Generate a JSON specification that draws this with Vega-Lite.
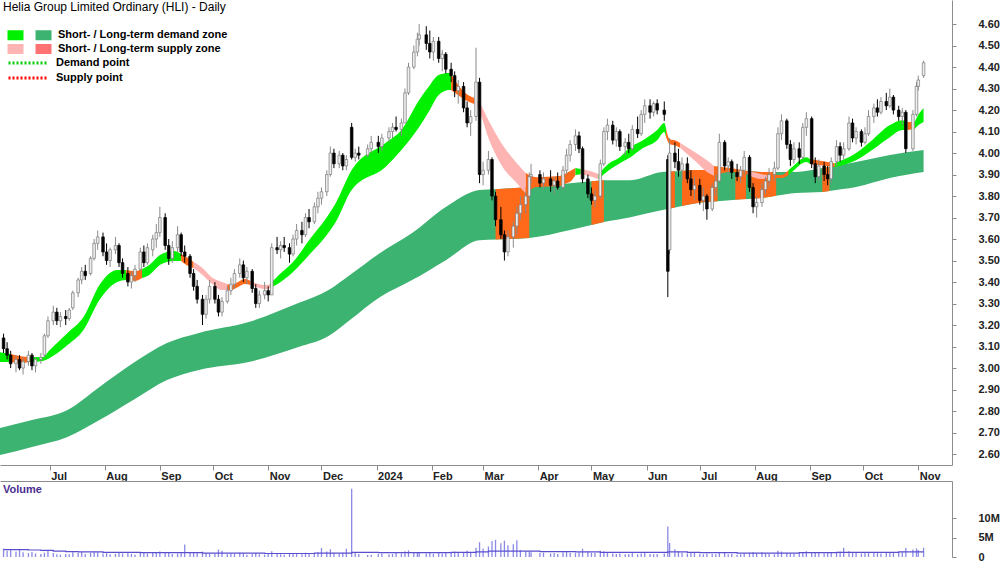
{
"$schema": "https://vega.github.io/schema/vega-lite/v6.json",
"padding": 0,
"spacing": 0,
"background": "white",
"config": {"view": {"stroke": null}, "font": "Liberation Sans"},
"datasets": {
"candles": [
{"d":"2023-06-05","o":3.14,"h":3.16,"l":3.07,"c":3.09,"v":2.2,"va":1.9},
{"d":"2023-06-07","o":3.09,"h":3.12,"l":3.04,"c":3.06,"v":1.6,"va":1.9},
{"d":"2023-06-09","o":3.06,"h":3.08,"l":3.00,"c":3.02,"v":1.9,"va":1.9},
{"d":"2023-06-12","o":3.02,"h":3.06,"l":2.98,"c":3.04,"v":1.4,"va":1.9},
{"d":"2023-06-14","o":3.04,"h":3.06,"l":2.99,"c":3.00,"v":2.0,"va":1.9},
{"d":"2023-06-16","o":3.00,"h":3.05,"l":2.97,"c":3.03,"v":1.2,"va":1.9},
{"d":"2023-06-19","o":3.03,"h":3.08,"l":3.01,"c":3.06,"v":1.0,"va":1.8},
{"d":"2023-06-21","o":3.06,"h":3.07,"l":2.99,"c":3.01,"v":1.3,"va":1.8},
{"d":"2023-06-23","o":3.01,"h":3.05,"l":2.98,"c":3.04,"v":0.9,"va":1.8},
{"d":"2023-06-26","o":3.04,"h":3.07,"l":3.02,"c":3.05,"v":0.8,"va":1.7},
{"d":"2023-06-28","o":3.06,"h":3.16,"l":3.05,"c":3.15,"v":1.1,"va":1.7},
{"d":"2023-06-30","o":3.15,"h":3.24,"l":3.14,"c":3.22,"v":1.7,"va":1.7},
{"d":"2023-07-03","o":3.22,"h":3.29,"l":3.20,"c":3.26,"v":1.0,"va":1.5},
{"d":"2023-07-05","o":3.26,"h":3.28,"l":3.20,"c":3.22,"v":0.7,"va":1.5},
{"d":"2023-07-07","o":3.22,"h":3.26,"l":3.19,"c":3.24,"v":0.6,"va":1.5},
{"d":"2023-07-10","o":3.24,"h":3.27,"l":3.20,"c":3.23,"v":0.8,"va":1.4},
{"d":"2023-07-12","o":3.23,"h":3.28,"l":3.22,"c":3.27,"v":0.7,"va":1.4},
{"d":"2023-07-14","o":3.28,"h":3.36,"l":3.27,"c":3.35,"v":1.2,"va":1.4},
{"d":"2023-07-17","o":3.35,"h":3.42,"l":3.33,"c":3.41,"v":1.0,"va":1.3},
{"d":"2023-07-19","o":3.41,"h":3.47,"l":3.39,"c":3.45,"v":1.3,"va":1.3},
{"d":"2023-07-21","o":3.45,"h":3.48,"l":3.41,"c":3.43,"v":0.8,"va":1.3},
{"d":"2023-07-24","o":3.44,"h":3.52,"l":3.43,"c":3.51,"v":1.1,"va":1.3},
{"d":"2023-07-26","o":3.51,"h":3.60,"l":3.50,"c":3.58,"v":1.4,"va":1.3},
{"d":"2023-07-28","o":3.58,"h":3.64,"l":3.55,"c":3.61,"v":1.2,"va":1.3},
{"d":"2023-07-31","o":3.61,"h":3.63,"l":3.52,"c":3.54,"v":0.9,"va":1.2},
{"d":"2023-08-02","o":3.54,"h":3.58,"l":3.48,"c":3.50,"v":1.0,"va":1.2},
{"d":"2023-08-04","o":3.50,"h":3.56,"l":3.47,"c":3.55,"v":0.7,"va":1.2},
{"d":"2023-08-07","o":3.55,"h":3.61,"l":3.53,"c":3.57,"v":0.8,"va":1.2},
{"d":"2023-08-09","o":3.57,"h":3.58,"l":3.47,"c":3.49,"v":1.3,"va":1.2},
{"d":"2023-08-11","o":3.49,"h":3.51,"l":3.42,"c":3.44,"v":0.9,"va":1.2},
{"d":"2023-08-14","o":3.44,"h":3.47,"l":3.38,"c":3.40,"v":1.1,"va":1.2},
{"d":"2023-08-16","o":3.40,"h":3.45,"l":3.37,"c":3.43,"v":0.8,"va":1.2},
{"d":"2023-08-18","o":3.43,"h":3.48,"l":3.40,"c":3.46,"v":0.6,"va":1.2},
{"d":"2023-08-21","o":3.46,"h":3.56,"l":3.45,"c":3.54,"v":1.0,"va":1.1},
{"d":"2023-08-23","o":3.54,"h":3.57,"l":3.47,"c":3.49,"v":1.2,"va":1.1},
{"d":"2023-08-25","o":3.49,"h":3.58,"l":3.48,"c":3.56,"v":0.9,"va":1.1},
{"d":"2023-08-28","o":3.55,"h":3.62,"l":3.52,"c":3.60,"v":1.1,"va":1.1},
{"d":"2023-08-30","o":3.60,"h":3.67,"l":3.56,"c":3.63,"v":1.3,"va":1.1},
{"d":"2023-09-01","o":3.63,"h":3.75,"l":3.61,"c":3.70,"v":1.4,"va":1.1},
{"d":"2023-09-04","o":3.70,"h":3.72,"l":3.55,"c":3.57,"v":1.2,"va":1.1},
{"d":"2023-09-06","o":3.57,"h":3.60,"l":3.48,"c":3.51,"v":1.0,"va":1.1},
{"d":"2023-09-08","o":3.51,"h":3.59,"l":3.49,"c":3.56,"v":0.8,"va":1.1},
{"d":"2023-09-11","o":3.56,"h":3.66,"l":3.54,"c":3.62,"v":0.9,"va":1.1},
{"d":"2023-09-13","o":3.62,"h":3.63,"l":3.52,"c":3.54,"v":1.1,"va":1.1},
{"d":"2023-09-15","o":3.54,"h":3.57,"l":3.49,"c":3.52,"v":3.2,"va":1.1},
{"d":"2023-09-18","o":3.52,"h":3.53,"l":3.42,"c":3.44,"v":1.0,"va":1.1},
{"d":"2023-09-20","o":3.44,"h":3.46,"l":3.36,"c":3.38,"v":1.2,"va":1.1},
{"d":"2023-09-22","o":3.38,"h":3.41,"l":3.30,"c":3.32,"v":1.1,"va":1.1},
{"d":"2023-09-25","o":3.32,"h":3.34,"l":3.20,"c":3.25,"v":1.4,"va":1.0},
{"d":"2023-09-27","o":3.25,"h":3.34,"l":3.23,"c":3.32,"v":1.0,"va":1.0},
{"d":"2023-09-29","o":3.32,"h":3.41,"l":3.30,"c":3.38,"v":0.9,"va":1.0},
{"d":"2023-10-02","o":3.38,"h":3.40,"l":3.30,"c":3.32,"v":0.8,"va":1.0},
{"d":"2023-10-04","o":3.32,"h":3.34,"l":3.24,"c":3.26,"v":1.9,"va":1.0},
{"d":"2023-10-06","o":3.26,"h":3.33,"l":3.24,"c":3.31,"v":1.6,"va":1.0},
{"d":"2023-10-09","o":3.31,"h":3.38,"l":3.30,"c":3.36,"v":0.7,"va":1.0},
{"d":"2023-10-11","o":3.36,"h":3.42,"l":3.34,"c":3.39,"v":0.9,"va":1.0},
{"d":"2023-10-13","o":3.39,"h":3.46,"l":3.37,"c":3.44,"v":0.8,"va":1.0},
{"d":"2023-10-16","o":3.44,"h":3.51,"l":3.42,"c":3.48,"v":1.1,"va":1.0},
{"d":"2023-10-18","o":3.48,"h":3.50,"l":3.40,"c":3.42,"v":1.0,"va":1.0},
{"d":"2023-10-20","o":3.42,"h":3.47,"l":3.39,"c":3.45,"v":0.6,"va":1.0},
{"d":"2023-10-23","o":3.45,"h":3.46,"l":3.35,"c":3.37,"v":0.8,"va":1.0},
{"d":"2023-10-25","o":3.37,"h":3.39,"l":3.28,"c":3.30,"v":1.0,"va":1.0},
{"d":"2023-10-27","o":3.30,"h":3.36,"l":3.28,"c":3.34,"v":0.7,"va":1.0},
{"d":"2023-10-30","o":3.34,"h":3.40,"l":3.32,"c":3.36,"v":0.6,"va":0.9},
{"d":"2023-11-01","o":3.36,"h":3.38,"l":3.31,"c":3.34,"v":0.9,"va":0.9},
{"d":"2023-11-03","o":3.34,"h":3.58,"l":3.34,"c":3.56,"v":1.5,"va":0.9},
{"d":"2023-11-06","o":3.56,"h":3.61,"l":3.53,"c":3.55,"v":0.9,"va":0.9},
{"d":"2023-11-08","o":3.55,"h":3.59,"l":3.51,"c":3.57,"v":0.7,"va":0.9},
{"d":"2023-11-10","o":3.57,"h":3.61,"l":3.54,"c":3.56,"v":0.6,"va":0.9},
{"d":"2023-11-13","o":3.56,"h":3.58,"l":3.49,"c":3.53,"v":0.8,"va":0.9},
{"d":"2023-11-15","o":3.53,"h":3.62,"l":3.52,"c":3.60,"v":0.9,"va":0.9},
{"d":"2023-11-17","o":3.60,"h":3.67,"l":3.57,"c":3.64,"v":1.0,"va":0.9},
{"d":"2023-11-20","o":3.64,"h":3.68,"l":3.58,"c":3.62,"v":0.7,"va":0.9},
{"d":"2023-11-22","o":3.62,"h":3.72,"l":3.61,"c":3.70,"v":1.1,"va":0.9},
{"d":"2023-11-24","o":3.70,"h":3.74,"l":3.65,"c":3.68,"v":0.8,"va":0.9},
{"d":"2023-11-27","o":3.68,"h":3.77,"l":3.67,"c":3.75,"v":0.9,"va":1.0},
{"d":"2023-11-29","o":3.75,"h":3.82,"l":3.72,"c":3.79,"v":1.2,"va":1.0},
{"d":"2023-12-01","o":3.79,"h":3.84,"l":3.76,"c":3.82,"v":2.3,"va":1.0},
{"d":"2023-12-04","o":3.82,"h":3.92,"l":3.80,"c":3.90,"v":1.4,"va":1.0},
{"d":"2023-12-06","o":3.90,"h":4.03,"l":3.89,"c":4.00,"v":2.0,"va":1.0},
{"d":"2023-12-08","o":4.00,"h":4.02,"l":3.93,"c":3.95,"v":1.0,"va":1.0},
{"d":"2023-12-11","o":3.95,"h":4.01,"l":3.93,"c":3.99,"v":0.9,"va":1.0},
{"d":"2023-12-13","o":3.99,"h":4.00,"l":3.92,"c":3.94,"v":1.1,"va":1.0},
{"d":"2023-12-15","o":3.94,"h":3.99,"l":3.92,"c":3.97,"v":2.1,"va":1.0},
{"d":"2023-12-18","o":4.12,"h":4.14,"l":3.97,"c":3.98,"v":17.5,"va":1.2},
{"d":"2023-12-20","o":3.98,"h":4.02,"l":3.96,"c":4.00,"v":1.3,"va":1.2},
{"d":"2023-12-22","o":4.00,"h":4.03,"l":3.97,"c":3.99,"v":0.8,"va":1.2},
{"d":"2023-12-27","o":3.99,"h":4.04,"l":3.98,"c":4.02,"v":0.5,"va":1.2},
{"d":"2023-12-29","o":4.02,"h":4.08,"l":4.00,"c":4.05,"v":0.6,"va":1.2},
{"d":"2024-01-02","o":4.05,"h":4.08,"l":4.00,"c":4.03,"v":0.8,"va":1.1},
{"d":"2024-01-04","o":4.03,"h":4.09,"l":4.01,"c":4.07,"v":0.9,"va":1.1},
{"d":"2024-01-08","o":4.07,"h":4.12,"l":4.05,"c":4.10,"v":0.7,"va":1.1},
{"d":"2024-01-10","o":4.10,"h":4.14,"l":4.07,"c":4.12,"v":0.8,"va":1.1},
{"d":"2024-01-12","o":4.12,"h":4.17,"l":4.10,"c":4.11,"v":1.0,"va":1.1},
{"d":"2024-01-15","o":4.11,"h":4.16,"l":4.08,"c":4.14,"v":0.9,"va":1.1},
{"d":"2024-01-17","o":4.14,"h":4.30,"l":4.14,"c":4.28,"v":1.5,"va":1.1},
{"d":"2024-01-19","o":4.28,"h":4.42,"l":4.27,"c":4.40,"v":1.7,"va":1.1},
{"d":"2024-01-22","o":4.40,"h":4.50,"l":4.39,"c":4.47,"v":1.3,"va":1.1},
{"d":"2024-01-24","o":4.47,"h":4.56,"l":4.45,"c":4.53,"v":1.2,"va":1.1},
{"d":"2024-01-25","o":4.53,"h":4.60,"l":4.50,"c":4.55,"v":1.1,"va":1.1},
{"d":"2024-01-29","o":4.55,"h":4.59,"l":4.48,"c":4.51,"v":0.9,"va":1.1},
{"d":"2024-01-31","o":4.51,"h":4.57,"l":4.44,"c":4.47,"v":1.0,"va":1.1},
{"d":"2024-02-02","o":4.47,"h":4.54,"l":4.43,"c":4.52,"v":0.8,"va":1.1},
{"d":"2024-02-05","o":4.52,"h":4.54,"l":4.42,"c":4.44,"v":1.0,"va":1.1},
{"d":"2024-02-07","o":4.44,"h":4.48,"l":4.38,"c":4.46,"v":0.9,"va":1.1},
{"d":"2024-02-09","o":4.46,"h":4.47,"l":4.37,"c":4.39,"v":1.1,"va":1.1},
{"d":"2024-02-12","o":4.39,"h":4.42,"l":4.33,"c":4.36,"v":1.2,"va":1.2},
{"d":"2024-02-14","o":4.36,"h":4.38,"l":4.26,"c":4.29,"v":1.4,"va":1.2},
{"d":"2024-02-16","o":4.29,"h":4.34,"l":4.23,"c":4.31,"v":1.0,"va":1.2},
{"d":"2024-02-19","o":4.31,"h":4.33,"l":4.19,"c":4.21,"v":1.3,"va":1.2},
{"d":"2024-02-21","o":4.21,"h":4.24,"l":4.12,"c":4.14,"v":1.6,"va":1.2},
{"d":"2024-02-23","o":4.14,"h":4.20,"l":4.08,"c":4.17,"v":1.2,"va":1.2},
{"d":"2024-02-26","o":4.17,"h":4.49,"l":4.15,"c":4.33,"v":2.4,"va":1.3},
{"d":"2024-02-28","o":4.33,"h":4.35,"l":3.86,"c":3.90,"v":3.8,"va":1.3},
{"d":"2024-03-01","o":3.90,"h":3.96,"l":3.85,"c":3.92,"v":2.2,"va":1.3},
{"d":"2024-03-04","o":3.92,"h":4.01,"l":3.90,"c":3.97,"v":2.7,"va":1.5},
{"d":"2024-03-06","o":3.97,"h":3.98,"l":3.78,"c":3.80,"v":4.1,"va":1.5},
{"d":"2024-03-08","o":3.80,"h":3.82,"l":3.66,"c":3.69,"v":4.4,"va":1.5},
{"d":"2024-03-11","o":3.69,"h":3.75,"l":3.60,"c":3.62,"v":3.5,"va":1.5},
{"d":"2024-03-13","o":3.62,"h":3.64,"l":3.50,"c":3.54,"v":4.2,"va":1.5},
{"d":"2024-03-15","o":3.54,"h":3.64,"l":3.52,"c":3.61,"v":3.0,"va":1.5},
{"d":"2024-03-18","o":3.61,"h":3.68,"l":3.56,"c":3.66,"v":3.3,"va":1.5},
{"d":"2024-03-20","o":3.66,"h":3.75,"l":3.62,"c":3.72,"v":4.3,"va":1.5},
{"d":"2024-03-22","o":3.72,"h":3.80,"l":3.69,"c":3.76,"v":1.8,"va":1.5},
{"d":"2024-03-25","o":3.76,"h":3.82,"l":3.72,"c":3.80,"v":1.5,"va":1.5},
{"d":"2024-03-27","o":3.80,"h":3.91,"l":3.78,"c":3.89,"v":1.4,"va":1.5},
{"d":"2024-03-28","o":3.89,"h":3.95,"l":3.86,"c":3.90,"v":1.2,"va":1.5},
{"d":"2024-04-02","o":3.90,"h":3.92,"l":3.84,"c":3.86,"v":1.0,"va":1.4},
{"d":"2024-04-04","o":3.86,"h":3.91,"l":3.83,"c":3.88,"v":1.1,"va":1.4},
{"d":"2024-04-08","o":3.88,"h":3.92,"l":3.82,"c":3.85,"v":0.9,"va":1.4},
{"d":"2024-04-10","o":3.85,"h":3.89,"l":3.81,"c":3.87,"v":1.0,"va":1.4},
{"d":"2024-04-12","o":3.87,"h":3.91,"l":3.83,"c":3.84,"v":0.8,"va":1.4},
{"d":"2024-04-15","o":3.84,"h":3.94,"l":3.83,"c":3.92,"v":1.2,"va":1.4},
{"d":"2024-04-17","o":3.92,"h":4.02,"l":3.90,"c":3.99,"v":1.3,"va":1.4},
{"d":"2024-04-19","o":3.99,"h":4.06,"l":3.96,"c":4.04,"v":1.1,"va":1.4},
{"d":"2024-04-22","o":4.04,"h":4.11,"l":4.01,"c":4.08,"v":1.0,"va":1.3},
{"d":"2024-04-24","o":4.08,"h":4.10,"l":4.00,"c":4.02,"v":1.2,"va":1.3},
{"d":"2024-04-26","o":4.02,"h":4.03,"l":3.86,"c":3.88,"v":2.1,"va":1.3},
{"d":"2024-04-29","o":3.88,"h":3.90,"l":3.79,"c":3.81,"v":1.4,"va":1.3},
{"d":"2024-05-01","o":3.81,"h":3.84,"l":3.76,"c":3.78,"v":1.1,"va":1.3},
{"d":"2024-05-03","o":3.78,"h":3.83,"l":3.75,"c":3.80,"v":1.0,"va":1.3},
{"d":"2024-05-06","o":3.80,"h":3.97,"l":3.79,"c":3.95,"v":1.6,"va":1.2},
{"d":"2024-05-08","o":3.95,"h":4.12,"l":3.94,"c":4.10,"v":1.5,"va":1.2},
{"d":"2024-05-10","o":4.10,"h":4.16,"l":4.06,"c":4.13,"v":1.1,"va":1.2},
{"d":"2024-05-13","o":4.13,"h":4.15,"l":4.04,"c":4.06,"v":0.9,"va":1.2},
{"d":"2024-05-15","o":4.06,"h":4.12,"l":4.03,"c":4.10,"v":0.8,"va":1.2},
{"d":"2024-05-17","o":4.10,"h":4.11,"l":4.01,"c":4.03,"v":0.9,"va":1.2},
{"d":"2024-05-20","o":4.03,"h":4.07,"l":3.99,"c":4.05,"v":0.7,"va":1.2},
{"d":"2024-05-22","o":4.05,"h":4.09,"l":4.00,"c":4.02,"v":0.8,"va":1.2},
{"d":"2024-05-24","o":4.02,"h":4.13,"l":4.01,"c":4.11,"v":1.0,"va":1.2},
{"d":"2024-05-27","o":4.11,"h":4.17,"l":4.07,"c":4.09,"v":0.7,"va":1.2},
{"d":"2024-05-29","o":4.09,"h":4.20,"l":4.08,"c":4.18,"v":0.9,"va":1.2},
{"d":"2024-05-31","o":4.18,"h":4.25,"l":4.14,"c":4.22,"v":1.3,"va":1.2},
{"d":"2024-06-03","o":4.22,"h":4.25,"l":4.16,"c":4.19,"v":0.8,"va":1.2},
{"d":"2024-06-05","o":4.19,"h":4.24,"l":4.17,"c":4.23,"v":0.7,"va":1.2},
{"d":"2024-06-07","o":4.23,"h":4.25,"l":4.18,"c":4.20,"v":0.8,"va":1.2},
{"d":"2024-06-11","o":4.20,"h":4.24,"l":4.15,"c":4.18,"v":0.9,"va":1.2},
{"d":"2024-06-13","o":3.97,"h":3.99,"l":3.33,"c":3.45,"v":7.8,"va":1.3},
{"d":"2024-06-14","o":3.55,"h":4.07,"l":3.53,"c":4.00,"v":3.6,"va":1.3},
{"d":"2024-06-17","o":4.00,"h":4.05,"l":3.93,"c":3.96,"v":2.0,"va":1.3},
{"d":"2024-06-19","o":3.96,"h":4.02,"l":3.89,"c":3.92,"v":1.4,"va":1.3},
{"d":"2024-06-21","o":3.92,"h":3.98,"l":3.87,"c":3.95,"v":1.1,"va":1.3},
{"d":"2024-06-24","o":3.95,"h":3.98,"l":3.86,"c":3.88,"v":0.9,"va":1.2},
{"d":"2024-06-26","o":3.88,"h":3.92,"l":3.80,"c":3.83,"v":1.0,"va":1.2},
{"d":"2024-06-28","o":3.83,"h":3.89,"l":3.78,"c":3.85,"v":1.2,"va":1.2},
{"d":"2024-07-01","o":3.85,"h":3.88,"l":3.76,"c":3.78,"v":0.8,"va":1.1},
{"d":"2024-07-03","o":3.78,"h":3.84,"l":3.73,"c":3.80,"v":0.7,"va":1.1},
{"d":"2024-07-05","o":3.80,"h":3.81,"l":3.69,"c":3.74,"v":0.9,"va":1.1},
{"d":"2024-07-08","o":3.74,"h":3.86,"l":3.73,"c":3.84,"v":0.8,"va":1.1},
{"d":"2024-07-10","o":3.84,"h":3.90,"l":3.80,"c":3.87,"v":0.7,"va":1.1},
{"d":"2024-07-12","o":3.87,"h":4.09,"l":3.86,"c":4.05,"v":1.3,"va":1.1},
{"d":"2024-07-15","o":4.05,"h":4.06,"l":3.92,"c":3.94,"v":1.0,"va":1.1},
{"d":"2024-07-17","o":3.94,"h":3.98,"l":3.90,"c":3.96,"v":0.7,"va":1.1},
{"d":"2024-07-19","o":3.96,"h":3.97,"l":3.88,"c":3.91,"v":0.8,"va":1.1},
{"d":"2024-07-22","o":3.91,"h":3.95,"l":3.87,"c":3.89,"v":0.6,"va":1.0},
{"d":"2024-07-24","o":3.89,"h":3.94,"l":3.86,"c":3.92,"v":0.7,"va":1.0},
{"d":"2024-07-26","o":3.92,"h":4.01,"l":3.90,"c":3.98,"v":0.9,"va":1.0},
{"d":"2024-07-29","o":3.98,"h":3.99,"l":3.82,"c":3.84,"v":1.1,"va":1.0},
{"d":"2024-07-31","o":3.84,"h":3.86,"l":3.72,"c":3.75,"v":1.3,"va":1.0},
{"d":"2024-08-02","o":3.75,"h":3.80,"l":3.70,"c":3.77,"v":1.0,"va":1.0},
{"d":"2024-08-05","o":3.77,"h":3.86,"l":3.75,"c":3.83,"v":1.2,"va":1.0},
{"d":"2024-08-07","o":3.83,"h":3.89,"l":3.81,"c":3.87,"v":0.9,"va":1.0},
{"d":"2024-08-09","o":3.87,"h":3.93,"l":3.84,"c":3.90,"v":0.8,"va":1.0},
{"d":"2024-08-12","o":3.90,"h":3.96,"l":3.87,"c":3.93,"v":0.7,"va":1.0},
{"d":"2024-08-14","o":3.93,"h":4.12,"l":3.92,"c":4.09,"v":1.6,"va":1.0},
{"d":"2024-08-16","o":4.09,"h":4.18,"l":4.06,"c":4.15,"v":1.4,"va":1.0},
{"d":"2024-08-19","o":4.15,"h":4.16,"l":4.02,"c":4.04,"v":1.1,"va":1.0},
{"d":"2024-08-21","o":4.04,"h":4.06,"l":3.94,"c":3.97,"v":1.0,"va":1.0},
{"d":"2024-08-23","o":3.97,"h":4.05,"l":3.95,"c":4.02,"v":0.8,"va":1.0},
{"d":"2024-08-26","o":4.02,"h":4.05,"l":3.95,"c":3.98,"v":0.9,"va":1.1},
{"d":"2024-08-28","o":3.98,"h":4.14,"l":3.97,"c":4.12,"v":1.2,"va":1.1},
{"d":"2024-08-30","o":4.12,"h":4.19,"l":4.08,"c":4.16,"v":1.5,"va":1.1},
{"d":"2024-09-02","o":4.16,"h":4.17,"l":3.93,"c":3.95,"v":1.3,"va":1.1},
{"d":"2024-09-04","o":3.95,"h":3.98,"l":3.86,"c":3.89,"v":1.1,"va":1.1},
{"d":"2024-09-06","o":3.89,"h":3.97,"l":3.87,"c":3.94,"v":1.0,"va":1.1},
{"d":"2024-09-09","o":3.94,"h":3.96,"l":3.87,"c":3.90,"v":0.9,"va":1.1},
{"d":"2024-09-11","o":3.90,"h":3.94,"l":3.85,"c":3.88,"v":1.2,"va":1.1},
{"d":"2024-09-13","o":3.88,"h":3.98,"l":3.86,"c":3.96,"v":1.0,"va":1.1},
{"d":"2024-09-16","o":3.96,"h":4.06,"l":3.94,"c":4.03,"v":1.3,"va":1.2},
{"d":"2024-09-18","o":4.03,"h":4.05,"l":3.96,"c":3.99,"v":1.4,"va":1.2},
{"d":"2024-09-20","o":3.99,"h":4.05,"l":3.97,"c":4.02,"v":2.4,"va":1.2},
{"d":"2024-09-23","o":4.02,"h":4.17,"l":4.01,"c":4.14,"v":1.5,"va":1.2},
{"d":"2024-09-25","o":4.14,"h":4.16,"l":4.05,"c":4.07,"v":1.1,"va":1.2},
{"d":"2024-09-27","o":4.07,"h":4.12,"l":4.04,"c":4.10,"v":1.0,"va":1.2},
{"d":"2024-09-30","o":4.10,"h":4.11,"l":4.03,"c":4.05,"v":0.9,"va":1.2},
{"d":"2024-10-02","o":4.05,"h":4.12,"l":4.04,"c":4.09,"v":1.0,"va":1.2},
{"d":"2024-10-04","o":4.09,"h":4.20,"l":4.08,"c":4.17,"v":1.1,"va":1.2},
{"d":"2024-10-07","o":4.17,"h":4.23,"l":4.14,"c":4.21,"v":1.2,"va":1.2},
{"d":"2024-10-09","o":4.21,"h":4.25,"l":4.17,"c":4.19,"v":1.0,"va":1.2},
{"d":"2024-10-11","o":4.19,"h":4.26,"l":4.18,"c":4.24,"v":0.9,"va":1.2},
{"d":"2024-10-14","o":4.24,"h":4.28,"l":4.20,"c":4.22,"v":1.1,"va":1.2},
{"d":"2024-10-16","o":4.22,"h":4.30,"l":4.21,"c":4.26,"v":1.3,"va":1.2},
{"d":"2024-10-18","o":4.26,"h":4.27,"l":4.18,"c":4.20,"v":1.0,"va":1.2},
{"d":"2024-10-21","o":4.20,"h":4.22,"l":4.15,"c":4.17,"v":1.2,"va":1.3},
{"d":"2024-10-23","o":4.17,"h":4.21,"l":4.13,"c":4.19,"v":1.4,"va":1.3},
{"d":"2024-10-25","o":4.19,"h":4.20,"l":4.00,"c":4.02,"v":2.3,"va":1.3},
{"d":"2024-10-29","o":4.02,"h":4.20,"l":4.01,"c":4.18,"v":1.9,"va":1.3},
{"d":"2024-10-31","o":4.18,"h":4.33,"l":4.17,"c":4.31,"v":2.2,"va":1.3},
{"d":"2024-11-01","o":4.31,"h":4.36,"l":4.29,"c":4.34,"v":1.8,"va":1.3},
{"d":"2024-11-04","o":4.36,"h":4.43,"l":4.35,"c":4.42,"v":2.4,"va":1.3}
],
"lt": [
{"z":"ld","d":"2023-06-03","hi":2.721,"lo":2.595},
{"z":"ld","d":"2023-06-21","hi":2.758,"lo":2.633},
{"z":"ld","d":"2023-07-11","hi":2.805,"lo":2.679},
{"z":"ld","d":"2023-07-29","hi":2.912,"lo":2.758},
{"z":"ld","d":"2023-08-17","hi":3.023,"lo":2.851},
{"z":"ld","d":"2023-09-05","hi":3.116,"lo":2.944},
{"z":"ld","d":"2023-09-23","hi":3.163,"lo":2.991},
{"z":"ld","d":"2023-10-21","hi":3.214,"lo":3.028},
{"z":"ld","d":"2023-11-18","hi":3.302,"lo":3.098},
{"z":"ld","d":"2023-12-05","hi":3.363,"lo":3.149},
{"z":"ld","d":"2023-12-17","hi":3.433,"lo":3.223},
{"z":"ld","d":"2024-01-03","hi":3.535,"lo":3.330},
{"z":"ld","d":"2024-01-21","hi":3.628,"lo":3.409},
{"z":"ld","d":"2024-02-09","hi":3.749,"lo":3.502},
{"z":"ld","d":"2024-02-28","hi":3.828,"lo":3.595},
{"z":"ld","d":"2024-03-08","hi":3.832,"lo":3.598},
{"z":"ld","d":"2024-03-27","hi":3.842,"lo":3.605},
{"z":"ld","d":"2024-04-19","hi":3.860,"lo":3.642},
{"z":"ld","d":"2024-05-01","hi":3.869,"lo":3.665},
{"z":"ld","d":"2024-05-08","hi":3.874,"lo":3.679},
{"z":"ld","d":"2024-05-23","hi":3.874,"lo":3.702},
{"z":"ld","d":"2024-06-10","hi":3.912,"lo":3.735},
{"z":"ld","d":"2024-06-13","hi":3.913,"lo":3.740},
{"z":"ld","d":"2024-06-17","hi":3.915,"lo":3.747},
{"z":"ld","d":"2024-06-21","hi":3.917,"lo":3.754},
{"z":"ld","d":"2024-06-29","hi":3.921,"lo":3.767},
{"z":"ld","d":"2024-07-11","hi":3.921,"lo":3.776},
{"z":"ld","d":"2024-07-18","hi":3.921,"lo":3.781},
{"z":"ld","d":"2024-07-21","hi":3.920,"lo":3.783},
{"z":"ld","d":"2024-07-27","hi":3.916,"lo":3.786},
{"z":"ld","d":"2024-07-30","hi":3.915,"lo":3.788},
{"z":"ld","d":"2024-08-05","hi":3.912,"lo":3.791},
{"z":"ld","d":"2024-08-13","hi":3.912,"lo":3.801},
{"z":"ld","d":"2024-08-24","hi":3.912,"lo":3.814},
{"z":"ld","d":"2024-09-08","hi":3.930,"lo":3.819},
{"z":"ld","d":"2024-09-12","hi":3.936,"lo":3.824},
{"z":"ld","d":"2024-09-27","hi":3.958,"lo":3.842},
{"z":"ld","d":"2024-10-16","hi":3.991,"lo":3.884},
{"z":"ld","d":"2024-11-04","hi":4.014,"lo":3.912}
],
"lto": [
{"g":1,"z":"so","d":"2024-03-08","hi":3.832,"lo":3.598},
{"g":1,"z":"so","d":"2024-03-27","hi":3.842,"lo":3.605},
{"g":2,"z":"so","d":"2024-05-01","hi":3.869,"lo":3.665},
{"g":2,"z":"so","d":"2024-05-08","hi":3.874,"lo":3.679},
{"g":3,"z":"so","d":"2024-06-13","hi":3.913,"lo":3.740},
{"g":3,"z":"so","d":"2024-06-17","hi":3.915,"lo":3.747},
{"g":4,"z":"so","d":"2024-06-21","hi":3.917,"lo":3.754},
{"g":4,"z":"so","d":"2024-06-29","hi":3.921,"lo":3.767},
{"g":4,"z":"so","d":"2024-07-11","hi":3.921,"lo":3.776},
{"g":5,"z":"so","d":"2024-07-21","hi":3.920,"lo":3.783},
{"g":5,"z":"so","d":"2024-07-27","hi":3.916,"lo":3.786},
{"g":6,"z":"so","d":"2024-07-30","hi":3.915,"lo":3.788},
{"g":6,"z":"so","d":"2024-08-05","hi":3.912,"lo":3.791},
{"g":6,"z":"so","d":"2024-08-13","hi":3.912,"lo":3.801},
{"g":7,"z":"so","d":"2024-09-08","hi":3.930,"lo":3.819},
{"g":7,"z":"so","d":"2024-09-12","hi":3.936,"lo":3.824}
],
"st": [
{"g":1,"z":"sd","d":"2023-06-03","hi":3.074,"lo":3.028},
{"g":1,"z":"sd","d":"2023-06-09","hi":3.065,"lo":3.028},
{"g":2,"z":"so","d":"2023-06-09","hi":3.065,"lo":3.028},
{"g":2,"z":"so","d":"2023-06-14","hi":3.056,"lo":3.023},
{"g":2,"z":"so","d":"2023-06-20","hi":3.051,"lo":3.028},
{"g":3,"z":"sd","d":"2023-06-20","hi":3.051,"lo":3.028},
{"g":3,"z":"sd","d":"2023-06-27","hi":3.051,"lo":3.033},
{"g":3,"z":"sd","d":"2023-07-01","hi":3.084,"lo":3.047},
{"g":3,"z":"sd","d":"2023-07-11","hi":3.163,"lo":3.107},
{"g":3,"z":"sd","d":"2023-07-20","hi":3.237,"lo":3.177},
{"g":3,"z":"sd","d":"2023-07-29","hi":3.386,"lo":3.316},
{"g":3,"z":"sd","d":"2023-08-08","hi":3.456,"lo":3.400},
{"g":3,"z":"sd","d":"2023-08-13","hi":3.456,"lo":3.409},
{"g":4,"z":"so","d":"2023-08-13","hi":3.456,"lo":3.409},
{"g":4,"z":"so","d":"2023-08-18","hi":3.451,"lo":3.405},
{"g":4,"z":"so","d":"2023-08-22","hi":3.461,"lo":3.419},
{"g":5,"z":"sd","d":"2023-08-22","hi":3.461,"lo":3.419},
{"g":5,"z":"sd","d":"2023-08-26","hi":3.479,"lo":3.433},
{"g":5,"z":"sd","d":"2023-09-01","hi":3.526,"lo":3.479},
{"g":5,"z":"sd","d":"2023-09-05","hi":3.540,"lo":3.493},
{"g":5,"z":"sd","d":"2023-09-09","hi":3.544,"lo":3.498},
{"g":5,"z":"sd","d":"2023-09-13","hi":3.530,"lo":3.498},
{"g":6,"z":"so","d":"2023-09-13","hi":3.530,"lo":3.498},
{"g":6,"z":"so","d":"2023-09-16","hi":3.516,"lo":3.479},
{"g":6,"z":"so","d":"2023-09-20","hi":3.493,"lo":3.465},
{"g":7,"z":"ss","d":"2023-09-20","hi":3.493,"lo":3.465},
{"g":7,"z":"ss","d":"2023-09-25","hi":3.465,"lo":3.433},
{"g":7,"z":"ss","d":"2023-09-30","hi":3.423,"lo":3.395},
{"g":7,"z":"ss","d":"2023-10-06","hi":3.400,"lo":3.363},
{"g":7,"z":"ss","d":"2023-10-09","hi":3.391,"lo":3.363},
{"g":8,"z":"so","d":"2023-10-09","hi":3.391,"lo":3.363},
{"g":8,"z":"so","d":"2023-10-11","hi":3.386,"lo":3.363},
{"g":8,"z":"so","d":"2023-10-19","hi":3.414,"lo":3.391},
{"g":8,"z":"so","d":"2023-10-22","hi":3.405,"lo":3.386},
{"g":9,"z":"ss","d":"2023-10-22","hi":3.405,"lo":3.386},
{"g":9,"z":"ss","d":"2023-10-25","hi":3.395,"lo":3.377},
{"g":9,"z":"ss","d":"2023-10-31","hi":3.386,"lo":3.367},
{"g":9,"z":"ss","d":"2023-11-02","hi":3.391,"lo":3.372},
{"g":10,"z":"sd","d":"2023-11-02","hi":3.391,"lo":3.372},
{"g":10,"z":"sd","d":"2023-11-07","hi":3.433,"lo":3.395},
{"g":10,"z":"sd","d":"2023-11-15","hi":3.493,"lo":3.447},
{"g":10,"z":"sd","d":"2023-11-24","hi":3.595,"lo":3.526},
{"g":10,"z":"sd","d":"2023-12-04","hi":3.702,"lo":3.619},
{"g":10,"z":"sd","d":"2023-12-09","hi":3.767,"lo":3.679},
{"g":10,"z":"sd","d":"2023-12-18","hi":3.921,"lo":3.828},
{"g":10,"z":"sd","d":"2024-01-06","hi":4.047,"lo":3.935},
{"g":10,"z":"sd","d":"2024-01-15","hi":4.107,"lo":4.014},
{"g":10,"z":"sd","d":"2024-01-25","hi":4.247,"lo":4.121},
{"g":10,"z":"sd","d":"2024-01-31","hi":4.316,"lo":4.200},
{"g":10,"z":"sd","d":"2024-02-05","hi":4.363,"lo":4.270},
{"g":10,"z":"sd","d":"2024-02-11","hi":4.372,"lo":4.293},
{"g":10,"z":"sd","d":"2024-02-12","hi":4.367,"lo":4.293},
{"g":11,"z":"so","d":"2024-02-12","hi":4.367,"lo":4.293},
{"g":11,"z":"so","d":"2024-02-20","hi":4.279,"lo":4.247},
{"g":11,"z":"so","d":"2024-02-25","hi":4.256,"lo":4.228},
{"g":12,"z":"ss","d":"2024-02-25","hi":4.256,"lo":4.228},
{"g":12,"z":"ss","d":"2024-02-28","hi":4.233,"lo":4.191},
{"g":12,"z":"ss","d":"2024-03-04","hi":4.153,"lo":4.070},
{"g":12,"z":"ss","d":"2024-03-12","hi":4.037,"lo":3.935},
{"g":12,"z":"ss","d":"2024-03-20","hi":3.953,"lo":3.860},
{"g":12,"z":"ss","d":"2024-03-25","hi":3.907,"lo":3.812},
{"g":13,"z":"so","d":"2024-03-25","hi":3.907,"lo":3.812},
{"g":13,"z":"so","d":"2024-03-31","hi":3.888,"lo":3.842},
{"g":13,"z":"so","d":"2024-04-13","hi":3.893,"lo":3.847},
{"g":13,"z":"so","d":"2024-04-17","hi":3.907,"lo":3.860},
{"g":13,"z":"so","d":"2024-04-20","hi":3.921,"lo":3.874},
{"g":13,"z":"so","d":"2024-04-22","hi":3.930,"lo":3.898},
{"g":14,"z":"sd","d":"2024-04-22","hi":3.930,"lo":3.898},
{"g":14,"z":"sd","d":"2024-04-25","hi":3.926,"lo":3.902},
{"g":15,"z":"ss","d":"2024-04-25","hi":3.926,"lo":3.902},
{"g":15,"z":"ss","d":"2024-05-02","hi":3.912,"lo":3.888},
{"g":15,"z":"ss","d":"2024-05-05","hi":3.902,"lo":3.879},
{"g":16,"z":"sd","d":"2024-05-05","hi":3.902,"lo":3.879},
{"g":16,"z":"sd","d":"2024-05-11","hi":3.953,"lo":3.921},
{"g":16,"z":"sd","d":"2024-05-17","hi":3.981,"lo":3.953},
{"g":16,"z":"sd","d":"2024-05-23","hi":4.028,"lo":3.981},
{"g":16,"z":"sd","d":"2024-05-30","hi":4.060,"lo":4.023},
{"g":16,"z":"sd","d":"2024-06-07","hi":4.107,"lo":4.060},
{"g":16,"z":"sd","d":"2024-06-11","hi":4.140,"lo":4.098},
{"g":16,"z":"sd","d":"2024-06-12","hi":4.116,"lo":4.074},
{"g":17,"z":"so","d":"2024-06-12","hi":4.116,"lo":4.074},
{"g":17,"z":"so","d":"2024-06-14","hi":4.065,"lo":4.042},
{"g":17,"z":"so","d":"2024-06-18","hi":4.056,"lo":4.033},
{"g":17,"z":"so","d":"2024-06-20","hi":4.047,"lo":4.023},
{"g":18,"z":"ss","d":"2024-06-20","hi":4.047,"lo":4.023},
{"g":18,"z":"ss","d":"2024-06-29","hi":4.000,"lo":3.958},
{"g":18,"z":"ss","d":"2024-07-05","hi":3.967,"lo":3.912},
{"g":18,"z":"ss","d":"2024-07-09","hi":3.940,"lo":3.895},
{"g":19,"z":"so","d":"2024-07-09","hi":3.940,"lo":3.895},
{"g":19,"z":"so","d":"2024-07-18","hi":3.930,"lo":3.912},
{"g":19,"z":"so","d":"2024-07-25","hi":3.921,"lo":3.907},
{"g":19,"z":"so","d":"2024-07-28","hi":3.916,"lo":3.898},
{"g":20,"z":"ss","d":"2024-07-28","hi":3.916,"lo":3.898},
{"g":20,"z":"ss","d":"2024-08-05","hi":3.902,"lo":3.879},
{"g":20,"z":"ss","d":"2024-08-08","hi":3.898,"lo":3.884},
{"g":21,"z":"so","d":"2024-08-08","hi":3.898,"lo":3.884},
{"g":21,"z":"so","d":"2024-08-16","hi":3.898,"lo":3.884},
{"g":21,"z":"so","d":"2024-08-20","hi":3.921,"lo":3.898},
{"g":22,"z":"sd","d":"2024-08-20","hi":3.921,"lo":3.898},
{"g":22,"z":"sd","d":"2024-08-22","hi":3.935,"lo":3.912},
{"g":22,"z":"sd","d":"2024-08-30","hi":3.981,"lo":3.958},
{"g":22,"z":"sd","d":"2024-09-01","hi":3.972,"lo":3.949},
{"g":23,"z":"so","d":"2024-09-01","hi":3.972,"lo":3.949},
{"g":23,"z":"so","d":"2024-09-15","hi":3.953,"lo":3.935},
{"g":24,"z":"sd","d":"2024-09-15","hi":3.953,"lo":3.935},
{"g":24,"z":"sd","d":"2024-09-27","hi":4.000,"lo":3.967},
{"g":24,"z":"sd","d":"2024-10-06","hi":4.060,"lo":4.014},
{"g":24,"z":"sd","d":"2024-10-16","hi":4.130,"lo":4.074},
{"g":24,"z":"sd","d":"2024-10-23","hi":4.153,"lo":4.107},
{"g":24,"z":"sd","d":"2024-10-26","hi":4.144,"lo":4.107},
{"g":25,"z":"so","d":"2024-10-26","hi":4.144,"lo":4.107},
{"g":25,"z":"so","d":"2024-10-30","hi":4.144,"lo":4.112},
{"g":26,"z":"sd","d":"2024-10-30","hi":4.144,"lo":4.112},
{"g":26,"z":"sd","d":"2024-10-31","hi":4.163,"lo":4.121},
{"g":26,"z":"sd","d":"2024-11-04","hi":4.209,"lo":4.144}
]
},
"vconcat": [
{
"width": 952,
"height": 465,
"title": {"text": "Helia Group Limited Ordinary (HLI) - Daily", "anchor": "start", "frame": "group", "offset": -14, "dx": 3, "fontSize": 12, "fontWeight": "normal", "font": "Liberation Sans", "color": "#000000"},
"layer": [
{
"data": {"name": "lt"},
"mark": {"type": "area", "interpolate": "monotone", "opacity": 1},
"encoding": {
"x": {"field": "d", "type": "temporal",
"scale": {"type": "utc", "nice": false, "padding": 0, "domain": [{"year": 2023, "month": 6, "date": 3, "utc": true}, {"year": 2024, "month": 11, "date": 20, "utc": true}]},
"axis": {"title": null, "grid": false, "tickCount": {"interval": "month", "step": 1},
"labelExpr": "utcFormat(datum.value, '%m') == '01' ? utcFormat(datum.value, '%Y') : utcFormat(datum.value, '%b')",
"tickSize": 5, "labelAlign": "left", "labelBaseline": "top", "labelPadding": 0, "labelOffset": 1,
"labelFont": "Liberation Sans", "labelFontWeight": "bold", "labelFontSize": 11, "labelColor": "#222222",
"domainColor": "#8c8c8c", "tickColor": "#8c8c8c", "labelFlush": false, "labelOverlap": false, "minExtent": 16, "maxExtent": 16}},
"y": {"field": "hi", "type": "quantitative",
"scale": {"domain": [2.549, 4.712], "nice": false, "zero": false, "padding": 0},
"axis": {"orient": "right", "title": null, "grid": false,
"values": [2.6, 2.7, 2.8, 2.9, 3.0, 3.1, 3.2, 3.3, 3.4, 3.5, 3.6, 3.7, 3.8, 3.9, 4.0, 4.1, 4.2, 4.3, 4.4, 4.5, 4.6],
"tickCount": 21,
"format": ".2f", "tickSize": 4, "labelPadding": 22, "labelOverlap": false,
"labelFont": "Liberation Sans", "labelFontWeight": "bold", "labelFontSize": 11, "labelColor": "#222222",
"domainColor": "#8c8c8c", "tickColor": "#8c8c8c"}},
"y2": {"field": "lo"},
"fill": {"field": "z", "type": "nominal",
"scale": {"domain": ["sd", "ld", "ss", "lsl", "so"], "range": ["#00f000", "#3cb371", "#ffb4b4", "#ff7373", "#ff6a1a"]},
"legend": {"orient": "none", "legendX": 10, "legendY": 29.5, "title": null, "columns": 2, "columnPadding": 5, "rowPadding": 2,
"values": ["sd", "ss", "ld", "lsl"], "labelLimit": 400,
"labelExpr": "datum.value == 'ld' ? 'Short- / Long-term demand zone' : (datum.value == 'lsl' ? 'Short- / Long-term supply zone' : '')",
"symbolType": "M-1.6,-1H1.6V1H-1.6Z", "symbolSize": 100, "symbolStrokeWidth": 0, "symbolOpacity": 1, "labelOffset": 9,
"labelFont": "Liberation Sans", "labelFontWeight": "bold", "labelFontSize": 11, "labelColor": "#000000", "padding": 0}}
}
},
{
"data": {"name": "lto"},
"mark": {"type": "area", "interpolate": "monotone", "opacity": 1},
"encoding": {
"x": {"field": "d", "type": "temporal"},
"y": {"field": "hi", "type": "quantitative"},
"y2": {"field": "lo"},
"fill": {"field": "z", "type": "nominal"},
"detail": {"field": "g", "type": "nominal"}
}
},
{
"data": {"name": "st"},
"mark": {"type": "area", "interpolate": "monotone", "opacity": 1},
"encoding": {
"x": {"field": "d", "type": "temporal"},
"y": {"field": "hi", "type": "quantitative"},
"y2": {"field": "lo"},
"fill": {"field": "z", "type": "nominal"},
"detail": {"field": "g", "type": "nominal"}
}
},
{
"data": {"name": "candles"},
"mark": {"type": "rule", "strokeWidth": 1},
"encoding": {
"x": {"field": "d", "type": "temporal"},
"y": {"field": "l", "type": "quantitative"},
"y2": {"field": "h"},
"color": {"condition": {"test": "datum.c >= datum.o", "value": "#8a8a8a"}, "value": "#000000"}
}
},
{
"data": {"name": "candles"},
"mark": {"type": "bar", "width": 2.6, "strokeWidth": 0.7},
"encoding": {
"x": {"field": "d", "type": "temporal"},
"y": {"field": "o", "type": "quantitative"},
"y2": {"field": "c"},
"fill": {"condition": {"test": "datum.c >= datum.o", "value": "#eeeeee"}, "value": "#000000"},
"stroke": {"condition": {"test": "datum.c >= datum.o", "value": "#7a7a7a"}, "value": "#000000"}
}
},
{
"data": {"values": []},
"mark": {"type": "rule"},
"encoding": {
"x": {"field": "d", "type": "temporal"},
"y": {"field": "p", "type": "quantitative"},
"stroke": {"field": "k", "type": "nominal",
"scale": {"domain": ["Demand point", "Supply point"], "range": ["#00cc00", "#ff0000"]},
"legend": {"orient": "none", "legendX": 22, "legendY": 56.5, "title": null, "rowPadding": 2,
"symbolType": "M-4,0H4", "symbolSize": 100, "symbolStrokeWidth": 3, "symbolDash": [2, 2], "symbolFillColor": "transparent", "labelOffset": 21,
"labelFont": "Liberation Sans", "labelFontWeight": "bold", "labelFontSize": 11, "labelColor": "#000000", "padding": 0}}
}
}
]
},
{
"width": 952,
"height": 76,
"title": {"text": "Volume", "anchor": "start", "frame": "group", "offset": -14, "dx": 3, "fontSize": 11, "fontWeight": "bold", "font": "Liberation Sans", "color": "#4b2c91"},
"data": {"name": "candles"},
"layer": [
{
"mark": {"type": "bar", "width": 1.3, "color": "#8a8ae6"},
"encoding": {
"x": {"field": "d", "type": "temporal",
"scale": {"type": "utc", "nice": false, "padding": 0, "domain": [{"year": 2023, "month": 6, "date": 3, "utc": true}, {"year": 2024, "month": 11, "date": 20, "utc": true}]},
"axis": {"orient": "top", "title": null, "labels": false, "ticks": false, "grid": false, "domain": true, "domainColor": "#8c8c8c", "minExtent": 0, "maxExtent": 0}},
"y": {"field": "v", "type": "quantitative",
"scale": {"domain": [0, 19.5], "nice": false, "padding": 0},
"axis": {"orient": "right", "title": null, "grid": false, "values": [0, 5, 10], "tickCount": 4, "labelOverlap": false,
"labelExpr": "datum.value == 0 ? '0' : (datum.value > 12 ? '' : datum.value + 'M')",
"tickOpacity": {"condition": {"test": "datum.value > 12", "value": 0}, "value": 1},
"tickSize": 4, "labelPadding": 22,
"labelFont": "Liberation Sans", "labelFontWeight": "bold", "labelFontSize": 11, "labelColor": "#222222",
"domainColor": "#8c8c8c", "tickColor": "#8c8c8c"}}
}
},
{
"mark": {"type": "line", "color": "#5b4fd0", "strokeWidth": 1.2, "interpolate": "step-after"},
"encoding": {
"x": {"field": "d", "type": "temporal"},
"y": {"field": "va", "type": "quantitative"}
}
}
]
}
]
}
